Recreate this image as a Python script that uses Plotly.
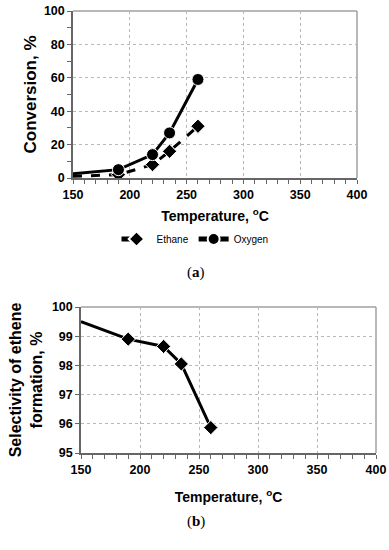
import plotly.graph_objects as go

temps = [150, 190, 220, 235, 260]
ethane_conv = [1.0, 2.0, 8.0, 16.0, 31.0]
oxygen_conv = [2.5, 5.0, 14.0, 27.0, 59.0]
selectivity = [99.5, 98.9, 98.65, 98.05, 95.87]

x_ticks = [150, 200, 250, 300, 350, 400]
y1_ticks = [0, 20, 40, 60, 80, 100]
y2_ticks = [95, 96, 97, 98, 99, 100]

W, H = 389, 550
def px_x(a, b):
    return [a / W, b / W]
def px_y(top, bottom):
    return [(H - bottom) / H, (H - top) / H]
def pt_x(a):
    return a / W
def pt_y(b):
    return (H - b) / H

# no marker drawn at the left-edge point (as in the reference)
def sizes(n, s):
    return [0] + [s] * (n - 1)

fig = go.Figure()
fig.add_trace(go.Scatter(x=temps, y=ethane_conv, name="Ethane", mode="lines+markers",
                         line=dict(color="black", width=3, dash="dash"),
                         marker=dict(symbol="diamond", size=sizes(len(temps), 11), color="black", opacity=1),
                         xaxis="x", yaxis="y"))
fig.add_trace(go.Scatter(x=temps, y=oxygen_conv, name="Oxygen", mode="lines+markers",
                         line=dict(color="black", width=3),
                         marker=dict(symbol="circle", size=sizes(len(temps), 12), color="black", opacity=1),
                         xaxis="x", yaxis="y"))
fig.add_trace(go.Scatter(x=temps, y=selectivity, name="Selectivity", mode="lines+markers",
                         line=dict(color="black", width=3),
                         marker=dict(symbol="diamond", size=sizes(len(temps), 11), color="black", opacity=1),
                         showlegend=False, xaxis="x2", yaxis="y2"))

tickfont = dict(family="Liberation Sans", size=12.5, color="black", weight="bold")
titlefont = dict(family="Liberation Sans", size=14, color="black", weight="bold")
grid = dict(showgrid=True, gridcolor="#b8b8b8", griddash="dot", gridwidth=1)
axline = dict(showline=True, linecolor="#666666", linewidth=1.5, ticks="outside",
              ticklen=4, tickcolor="#666666", zeroline=False, automargin=False)
minor = dict(dtick=10, ticks="outside", ticklen=4, tickcolor="#666666", showgrid=False)

fig.update_layout(
    width=W, height=H, margin=dict(l=0, r=0, t=0, b=0),
    paper_bgcolor="white", plot_bgcolor="white",
    showlegend=True,
    legend=dict(orientation="h", x=pt_x(195), xanchor="center", y=pt_y(239), yanchor="middle",
                font=dict(family="Liberation Sans", size=10, color="black"),
                bgcolor="rgba(0,0,0,0)", itemsizing="constant", itemwidth=30),
    xaxis=dict(domain=px_x(73, 357), anchor="y", range=[150, 400], tickvals=x_ticks,
               tickfont=tickfont, title=dict(text="Temperature, <sup>o</sup>C", font=titlefont, standoff=10),
               minor=minor, **grid, **axline),
    yaxis=dict(domain=px_y(11, 178), anchor="x", range=[0, 100], tickvals=y1_ticks,
               tickfont=tickfont, title=dict(text="Conversion, %", font=dict(titlefont, size=17), standoff=3),
               minor=minor, **grid, **axline),
    xaxis2=dict(domain=px_x(81, 376), anchor="y2", range=[150, 400], tickvals=x_ticks,
                tickfont=tickfont, title=dict(text="Temperature, <sup>o</sup>C", font=titlefont, standoff=16),
                minor=minor, **grid, **axline),
    yaxis2=dict(domain=px_y(307, 453), anchor="x2", range=[95, 100], tickvals=y2_ticks,
                tickfont=tickfont, title=dict(text="Selectivity of ethene<br>formation, %", font=dict(titlefont, size=16), standoff=5),
                **grid, **axline),
)

for xr, yr in (("x domain", "y domain"), ("x2 domain", "y2 domain")):
    fig.add_shape(type="line", xref=xr, yref=yr, x0=0, x1=1, y0=1, y1=1,
                  line=dict(color="#a0a0a0", width=1.5), layer="below")
    fig.add_shape(type="line", xref=xr, yref=yr, x0=1, x1=1, y0=0, y1=1,
                  line=dict(color="#a0a0a0", width=1.5), layer="below")

capfont = dict(family="Liberation Serif", size=15, color="black")
fig.add_annotation(text="(<b>a</b>)", xref="paper", yref="paper", x=pt_x(196), y=pt_y(272),
                   xanchor="center", yanchor="middle", showarrow=False, font=capfont)
fig.add_annotation(text="(<b>b</b>)", xref="paper", yref="paper", x=pt_x(196), y=pt_y(521),
                   xanchor="center", yanchor="middle", showarrow=False, font=capfont)

fig.write_html("out.html", config={"displayModeBar": False},
               post_script="document.body.style.margin='0';")
